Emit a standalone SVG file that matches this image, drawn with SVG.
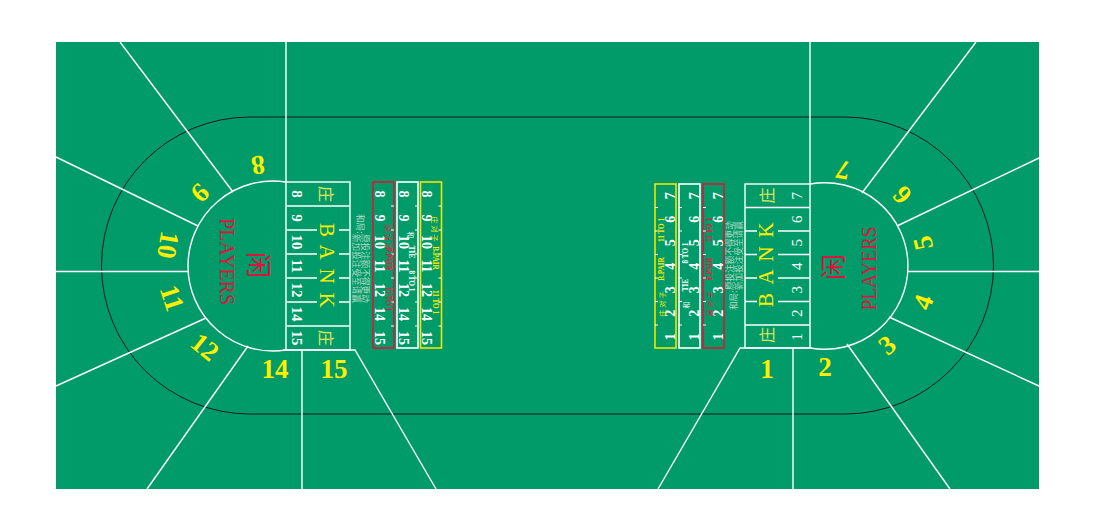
<svg xmlns="http://www.w3.org/2000/svg" width="1093" height="520" viewBox="0 0 1093 520">
<defs>
<style>
.felt{fill:#009b69}
.wl{stroke:#fff;stroke-width:1.4;fill:none}
.bl{stroke:#1a1a1a;stroke-width:1;fill:none}
text{text-anchor:middle;dominant-baseline:central}
.seat{font:bold 27px "Liberation Serif",serif;fill:#ffee00}
.bn{font:bold 15px "Liberation Serif",serif;fill:#fff}
.bnr{font:15px "Liberation Serif",serif;fill:#fff}
.bank{font:21px "Liberation Serif",serif;fill:#ffee00}
.zh{font:16px "Noto Sans CJK SC",sans-serif;fill:#e4e45a}
.sn{font:bold 14px "Liberation Serif",serif;fill:#fff}
.lab{font:bold 7.2px "Liberation Serif",serif}
.labz{font:7px "Noto Sans CJK SC",sans-serif;letter-spacing:2px}
.note{font:8.6px "Noto Sans CJK SC",sans-serif;fill:#b4d8c5;text-anchor:start}
.pl{font:22px "Liberation Serif",serif;fill:#dc143c}
.xian{font:26px "Noto Sans CJK SC",sans-serif;fill:#dc143c}
.r{fill:#e8173f}.w{fill:#fff}.y{fill:#ffee00}
.sr{stroke:#dc143c;stroke-width:1.6;fill:none}
.sw{stroke:#fff;stroke-width:1.6;fill:none}
.sy{stroke:#f2e600;stroke-width:1.6;fill:none}
.tick{stroke:#fff;stroke-width:1}
</style>
</defs>
<rect class="felt" x="56" y="42" width="983" height="447"/>

<g id="connectors">
<path class="bl" d="M250,117 H845 A148.5,148.5 0 0 1 845,414 H250 A148.5,148.5 0 0 1 250,117 Z"/>
<path class="wl" d="M286,42 V182"/>
<path class="wl" d="M286,182 A85,85 0 1 0 286,350"/>
<path class="wl" d="M233,192 L120,42"/>
<path class="wl" d="M198,226 L56,157"/>
<path class="wl" d="M188,271.5 H56"/>
<path class="wl" d="M206,318 L56,386"/>
<path class="wl" d="M248,346 L147,489"/>
<path class="wl" d="M302,350 V489"/>
<path class="wl" d="M283,350 H355 L436,489"/>
<path class="wl" d="M810,42 V184"/>
<path class="wl" d="M810,184 A83.3,83.3 0 1 1 810,348"/>
<path class="wl" d="M862,193 L976,42"/>
<path class="wl" d="M897,226 L1039,158"/>
<path class="wl" d="M908,271.5 H1039"/>
<path class="wl" d="M889,317 L1039,386"/>
<path class="wl" d="M847,344 L950,489"/>
<path class="wl" d="M793,348 V489"/>
<path class="wl" d="M812,348 H740 L658,489"/>
</g>

<g id="bank-left">
<rect class="wl" x="286" y="182" width="64" height="168"/>
<path class="wl" d="M286,206 H350 M286,326 H350 M286,230 H317 M339,230 H350 M286,254 H317 M339,254 H350 M286,278 H317 M339,278 H350 M286,302 H317 M339,302 H350"/>
<text class="bn" transform="translate(297,194) rotate(90)">8</text>
<text class="bn" transform="translate(297,218) rotate(90)">9</text>
<text class="bn" transform="translate(297,242) rotate(90)">10</text>
<text class="bn" transform="translate(297,266) rotate(90)">11</text>
<text class="bn" transform="translate(297,290) rotate(90)">12</text>
<text class="bn" transform="translate(297,314) rotate(90)">14</text>
<text class="bn" transform="translate(297,338) rotate(90)">15</text>
<text class="zh" transform="translate(327,194) rotate(90)">庄</text>
<text class="zh" transform="translate(327,338) rotate(90)">庄</text>
<text class="bank" transform="translate(327,230) rotate(90)">B</text>
<text class="bank" transform="translate(327,252) rotate(90)">A</text>
<text class="bank" transform="translate(327,276) rotate(90)">N</text>
<text class="bank" transform="translate(327,300) rotate(90)">K</text>
</g>

<g id="bank-right">
<rect class="wl" x="745" y="184" width="65" height="164"/>
<path class="wl" d="M745,207.5 H810 M745,325 H810 M778,231 H810 M745,231 H757 M778,254.5 H810 M745,254.5 H757 M778,278 H810 M745,278 H757 M778,301.5 H810 M745,301.5 H757"/>
<text class="bnr" transform="translate(797,195.75) rotate(-90)">7</text>
<text class="bnr" transform="translate(797,219.25) rotate(-90)">6</text>
<text class="bnr" transform="translate(797,242.75) rotate(-90)">5</text>
<text class="bnr" transform="translate(797,266.25) rotate(-90)">4</text>
<text class="bnr" transform="translate(797,289.75) rotate(-90)">3</text>
<text class="bnr" transform="translate(797,313.25) rotate(-90)">2</text>
<text class="bnr" transform="translate(797,336.75) rotate(-90)">1</text>
<text class="zh" transform="translate(766,195.5) rotate(-90)">庄</text>
<text class="zh" transform="translate(766,335) rotate(-90)">庄</text>
<text class="bank" transform="translate(766,300) rotate(-90)">B</text>
<text class="bank" transform="translate(766,277) rotate(-90)">A</text>
<text class="bank" transform="translate(766,254) rotate(-90)">N</text>
<text class="bank" transform="translate(766,230) rotate(-90)">K</text>
</g>

<g id="players-left">
<text class="xian" transform="translate(260,265) rotate(90)">闲</text>
<text class="pl" transform="translate(227,261.5) rotate(90)" textLength="87" lengthAdjust="spacingAndGlyphs">PLAYERS</text>
</g>
<g id="players-right">
<text class="xian" transform="translate(831,267) rotate(-90)">闲</text>
<text class="pl" transform="translate(868,268.5) rotate(-90)" textLength="84" lengthAdjust="spacingAndGlyphs">PLAYERS</text>
</g>

<g id="seats">
<text class="seat" transform="translate(258,165) rotate(172)">8</text>
<text class="seat" transform="translate(200,193) rotate(135)">9</text>
<text class="seat" transform="translate(168,245) rotate(100)">10</text>
<text class="seat" transform="translate(172,298) rotate(72)">11</text>
<text class="seat" transform="translate(205,347) rotate(39)">12</text>
<text class="seat" transform="translate(275,369)">14</text>
<text class="seat" transform="translate(334,369)">15</text>
<text class="seat" transform="translate(767,369)">1</text>
<text class="seat" transform="translate(825,367)">2</text>
<text class="seat" transform="translate(887,345) rotate(-39)">3</text>
<text class="seat" transform="translate(923,302) rotate(-70)">4</text>
<text class="seat" transform="translate(923,243) rotate(-103)">5</text>
<text class="seat" transform="translate(902,195) rotate(-132)">6</text>
<text class="seat" transform="translate(843,170) rotate(-169)">7</text>
</g>

<g id="note-left">
<text class="note" transform="translate(361,214) rotate(90)">和局:</text>
<text class="note" transform="translate(365.5,234) rotate(90)">原投注额不得更动</text>
<text class="note" transform="translate(357,234) rotate(90)">新加投注受至请赢</text>
</g>
<g id="note-right">
<text class="note" transform="translate(733,310) rotate(-90)">和局:</text>
<text class="note" transform="translate(729,290) rotate(-90)">原投注额不得更动</text>
<text class="note" transform="translate(737.5,290) rotate(-90)">新加投注受至请赢</text>
</g>

<g id="strip-left-ppair">
<rect class="sr" x="373" y="182" width="21" height="166"/>
<path class="tick" d="M391,206H394M391,230H394M391,254H394M391,278H394M391,302H394M391,326H394"/>
<text class="sn" transform="translate(379,194) rotate(90)">8</text>
<text class="sn" transform="translate(379,218) rotate(90)">9</text>
<text class="sn" transform="translate(379,242) rotate(90)">10</text>
<text class="sn" transform="translate(379,266) rotate(90)">11</text>
<text class="sn" transform="translate(379,290) rotate(90)">12</text>
<text class="sn" transform="translate(379,314) rotate(90)">14</text>
<text class="sn" transform="translate(379,338) rotate(90)">15</text>
<text class="labz r" transform="translate(388,238) rotate(90)">闲对子</text>
<text class="lab r" transform="translate(388,259) rotate(90)">P.PAIR</text>
<text class="lab r" transform="translate(388,299) rotate(90)">11 TO 1</text>
</g>
<g id="strip-left-tie">
<rect class="sw" x="397" y="182" width="21" height="166"/>
<path class="tick" d="M415,206H418M415,230H418M415,254H418M415,278H418M415,302H418M415,326H418"/>
<text class="sn" transform="translate(403,194) rotate(90)">8</text>
<text class="sn" transform="translate(403,218) rotate(90)">9</text>
<text class="sn" transform="translate(403,242) rotate(90)">10</text>
<text class="sn" transform="translate(403,266) rotate(90)">11</text>
<text class="sn" transform="translate(403,290) rotate(90)">12</text>
<text class="sn" transform="translate(403,314) rotate(90)">14</text>
<text class="sn" transform="translate(403,338) rotate(90)">15</text>
<text class="labz w" transform="translate(411,236) rotate(90)">和</text>
<text class="lab w" transform="translate(411,252) rotate(90)">TIE</text>
<text class="lab w" transform="translate(411,281) rotate(90)">8 TO 1</text>
</g>
<g id="strip-left-bpair">
<rect class="sy" x="420.5" y="182" width="21" height="166"/>
<path class="tick" d="M438.5,206H441.5M438.5,230H441.5M438.5,254H441.5M438.5,278H441.5M438.5,302H441.5M438.5,326H441.5"/>
<text class="sn" transform="translate(426.5,194) rotate(90)">8</text>
<text class="sn" transform="translate(426.5,218) rotate(90)">9</text>
<text class="sn" transform="translate(426.5,242) rotate(90)">10</text>
<text class="sn" transform="translate(426.5,266) rotate(90)">11</text>
<text class="sn" transform="translate(426.5,290) rotate(90)">12</text>
<text class="sn" transform="translate(426.5,314) rotate(90)">14</text>
<text class="sn" transform="translate(426.5,338) rotate(90)">15</text>
<text class="labz y" transform="translate(435,230) rotate(90)">庄对子</text>
<text class="lab y" transform="translate(435,258) rotate(90)">B.PAIR</text>
<text class="lab y" transform="translate(435,302) rotate(90)">11 TO 1</text>
</g>

<g id="strip-right-bpair">
<rect class="sy" x="655" y="184" width="21" height="164"/>
<path class="tick" d="M655,207.5H658M655,231H658M655,254.5H658M655,278H658M655,301.5H658M655,325H658"/>
<text class="sn" transform="translate(670,195.75) rotate(-90)">7</text>
<text class="sn" transform="translate(670,219.25) rotate(-90)">6</text>
<text class="sn" transform="translate(670,242.75) rotate(-90)">5</text>
<text class="sn" transform="translate(670,266.25) rotate(-90)">4</text>
<text class="sn" transform="translate(670,289.75) rotate(-90)">3</text>
<text class="sn" transform="translate(670,313.25) rotate(-90)">2</text>
<text class="sn" transform="translate(670,336.75) rotate(-90)">1</text>
<text class="labz y" transform="translate(662,303) rotate(-90)">庄对子</text>
<text class="lab y" transform="translate(662,269) rotate(-90)">B.PAIR</text>
<text class="lab y" transform="translate(662,230) rotate(-90)">11 TO 1</text>
</g>
<g id="strip-right-tie">
<rect class="sw" x="679" y="184" width="21" height="164"/>
<path class="tick" d="M679,207.5H682M679,231H682M679,254.5H682M679,278H682M679,301.5H682M679,325H682"/>
<text class="sn" transform="translate(694,195.75) rotate(-90)">7</text>
<text class="sn" transform="translate(694,219.25) rotate(-90)">6</text>
<text class="sn" transform="translate(694,242.75) rotate(-90)">5</text>
<text class="sn" transform="translate(694,266.25) rotate(-90)">4</text>
<text class="sn" transform="translate(694,289.75) rotate(-90)">3</text>
<text class="sn" transform="translate(694,313.25) rotate(-90)">2</text>
<text class="sn" transform="translate(694,336.75) rotate(-90)">1</text>
<text class="labz w" transform="translate(686,304) rotate(-90)">和</text>
<text class="lab w" transform="translate(686,285) rotate(-90)">TIE</text>
<text class="lab w" transform="translate(686,253) rotate(-90)">8 TO 1</text>
</g>
<g id="strip-right-ppair">
<rect class="sr" x="703" y="184" width="21" height="164"/>
<path class="tick" d="M703,207.5H706M703,231H706M703,254.5H706M703,278H706M703,301.5H706M703,325H706"/>
<text class="sn" transform="translate(718,195.75) rotate(-90)">7</text>
<text class="sn" transform="translate(718,219.25) rotate(-90)">6</text>
<text class="sn" transform="translate(718,242.75) rotate(-90)">5</text>
<text class="sn" transform="translate(718,266.25) rotate(-90)">4</text>
<text class="sn" transform="translate(718,289.75) rotate(-90)">3</text>
<text class="sn" transform="translate(718,313.25) rotate(-90)">2</text>
<text class="sn" transform="translate(718,336.75) rotate(-90)">1</text>
<text class="labz r" transform="translate(710,303) rotate(-90)">闲对子</text>
<text class="lab r" transform="translate(710,269) rotate(-90)">P.PAIR</text>
<text class="lab r" transform="translate(710,230) rotate(-90)">11 TO 1</text>
</g>
</svg>
